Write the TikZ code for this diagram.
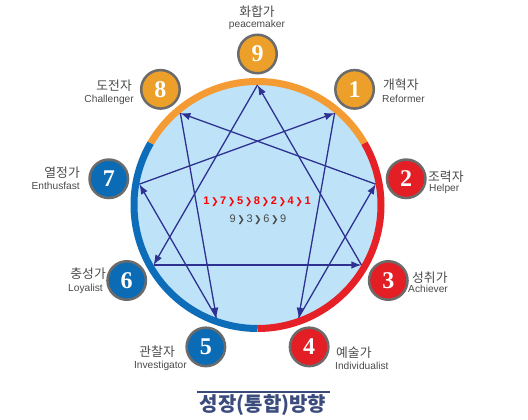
\documentclass[tikz,border=0pt]{standalone}
\usepackage{fontspec}
\setmainfont{Liberation Sans}
\newfontfamily\kofont{Noto Sans CJK KR}
\newfontfamily\numfont{Liberation Serif}
\newfontfamily\symfont{DejaVu Sans}
\usetikzlibrary{arrows.meta,positioning}
\definecolor{ringorange}{HTML}{F49B33}
\definecolor{ringred}{HTML}{E52027}
\definecolor{ringblue}{HTML}{0E6DB8}
\definecolor{innerblue}{HTML}{BEE3F8}
\definecolor{linenavy}{HTML}{2E3192}
\definecolor{badgeorange}{HTML}{ECA02A}
\definecolor{badgered}{HTML}{E31E25}
\definecolor{badgeblue}{HTML}{0B6CB5}
\definecolor{badgegray}{HTML}{6B6B6B}
\definecolor{labelgray}{HTML}{4A4A4A}
\definecolor{titlenavy}{HTML}{3B4B7C}
\newcommand{\chev}{{\symfont\fontsize{9}{9}\selectfont\kern1.6pt❯\kern1.6pt}}
\tikzset{
  badge/.style={circle,draw=badgegray,line width=2.5pt,minimum size=38.5pt,inner sep=0pt,
    text=white,font=\numfont\bfseries\fontsize{24}{24}\selectfont},
  konm/.style={font=\kofont\fontsize{12.8}{13}\selectfont,text=labelgray,inner sep=0pt},
  ennm/.style={font=\fontsize{10.2}{11}\selectfont,text=labelgray,inner sep=0pt},
  flow/.style={linenavy,line width=1.3pt,-{Latex[length=10pt,width=7.5pt]}}
}

\begin{document}
\begin{tikzpicture}[x=1pt,y=1pt]
  \useasboundingbox (0,0) rectangle (528,-420);
  \coordinate (c) at (257.5,-205);
  % disc and coloured rim
  \fill[innerblue] (c) circle (124);
  \draw[ringorange,line width=7pt] (c) ++(30:123.5) arc[start angle=30,end angle=150,radius=123.5];
  \draw[ringred,line width=7pt] (c) ++(-90:123.5) arc[start angle=-90,end angle=30,radius=123.5];
  \draw[ringblue,line width=7pt] (c) ++(150:123.5) arc[start angle=150,end angle=270,radius=123.5];
  % points on the rim
  \foreach \k in {1,...,9}
    \path (c) ++({90-40*\k}:120) coordinate (p\k);
  % lines
  \foreach \s/\t in {1/4,4/2,2/8,8/5,5/7,7/1,9/6,6/3,3/9}
    \draw[flow] (p\s) -- (p\t);
  % badges
  \foreach \k/\col in {1/badgeorange,2/badgered,3/badgered,4/badgered,5/badgeblue,
      6/badgeblue,7/badgeblue,8/badgeorange,9/badgeorange}
    \path (c) ++({90-40*\k}:151) node[badge,fill=\col] (b\k) {\k};
  % labels
  \node[konm] (k9) at (257,-12) {화합가};
  \node[ennm] (e9) at (257,-25) {peacemaker};
  \node[konm,anchor=west] (k1) at (383,-85) {개혁자};
  \node[ennm,anchor=west] (e1) at (382,-99) {Reformer};
  \node[konm,anchor=west] (k2) at (428,-177) {조력자};
  \node[ennm,anchor=west] (e2) at (429,-189) {Helper};
  \node[konm,anchor=west] (k3) at (412,-278) {성취가};
  \node[ennm,anchor=west] (e3) at (408,-289) {Achiever};
  \node[konm,anchor=west] (k4) at (336,-353) {예술가};
  \node[ennm,anchor=west] (e4) at (335,-366) {Individualist};
  \node[konm,anchor=east] (k5) at (175,-352) {관찰자};
  \node[ennm,anchor=east] (e5) at (187,-366) {Investigator};
  \node[konm,anchor=east] (k6) at (106,-274) {충성가};
  \node[ennm,anchor=east] (e6) at (103,-289) {Loyalist};
  \node[konm,anchor=east] (k7) at (80,-173) {열정가};
  \node[ennm,anchor=east] (e7) at (80,-186) {Enthusfast};
  \node[konm,anchor=east] (k8) at (132,-86) {도전자};
  \node[ennm,anchor=east] (e8) at (134,-100) {Challenger};
  % centre text
  \node[font=\bfseries\fontsize{11}{11}\selectfont,text=red,inner sep=0pt] (order1) at (257,-202)
    {1\chev7\chev5\chev8\chev2\chev4\chev1};
  \node[font=\fontsize{11}{11}\selectfont,text=labelgray,inner sep=0pt] (order2) at (258,-220)
    {9\chev3\chev6\chev9};
  % title
  \node[font=\kofont\bfseries\fontsize{20}{20}\selectfont,text=titlenavy,inner sep=0pt] (title) at (263,-405)
    {성장(통합)방향};
  \draw[titlenavy,line width=1.5pt] (197,-392) -- (330,-392);
\end{tikzpicture}
\end{document}
